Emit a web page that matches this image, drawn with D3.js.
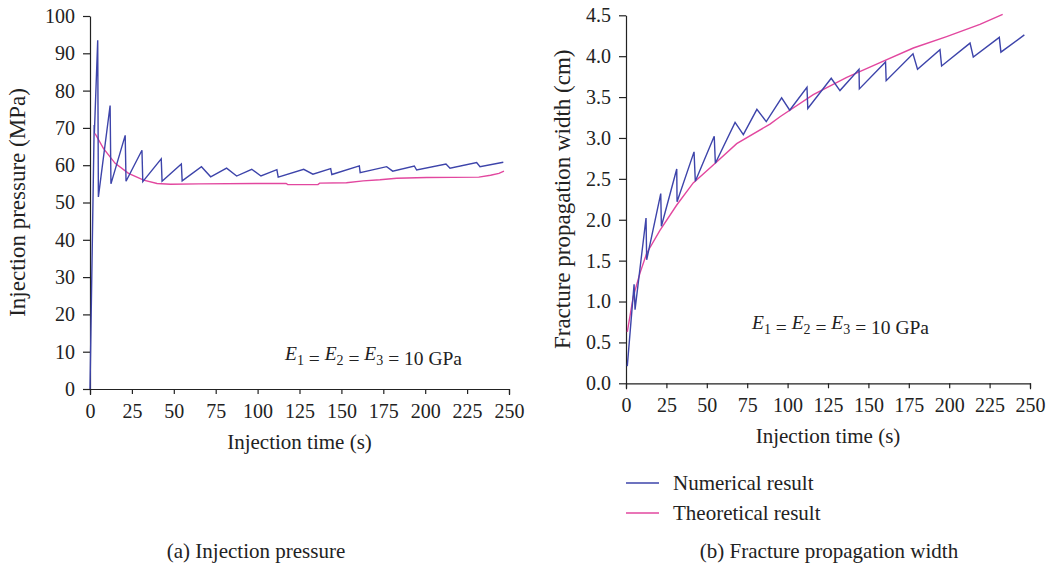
<!DOCTYPE html>
<html>
<head>
<meta charset="utf-8">
<script src="https://cdn.jsdelivr.net/npm/d3@7"></script>
<style>
  body { margin: 0; background: #fff; }
  svg { display: block; font-family: "Liberation Serif", "Times New Roman", serif; }
  .axis path, .axis line { stroke: #222; stroke-width: 1.2; }
</style>
</head>
<body>
<div id="chart"></div>
<script>
// ---- data ----
const timeTicks = [0, 25, 50, 75, 100, 125, 150, 175, 200, 225, 250];
const pressureTicks = [0, 10, 20, 30, 40, 50, 60, 70, 80, 90, 100];
const widthTicks = [0, 0.5, 1, 1.5, 2, 2.5, 3, 3.5, 4, 4.5];

// (a) injection pressure, MPa
const pressureNumT = [0, 2.5, 2.6, 4.6, 5, 12, 12.5, 21, 21.5, 31, 31.5, 42.5, 43, 54.5, 55, 66.5, 72, 81.5, 87.5, 96.5, 102, 111.5, 112.3, 127.5, 133, 143.6, 144.3, 160.7, 161.2, 177, 180.6, 193.5, 194.9, 212.4, 214.8, 230.7, 232.7, 246.6];
const pressureNumV = [0, 70.8, 68.5, 93.5, 51.5, 76, 55, 68, 55.7, 64, 55.6, 61.7, 55.7, 60.3, 55.8, 59.6, 56.9, 59.2, 57.1, 58.9, 57.1, 58.8, 56.8, 58.9, 57.6, 59.1, 57.5, 59.8, 58, 59.6, 58.4, 59.8, 58.7, 60.3, 59.2, 60.7, 59.6, 60.8];
const pressureTheoT = [3, 8, 15, 23, 32, 40, 48, 65, 100, 117, 118, 136, 137, 153, 163, 173, 183, 201, 232, 239, 244, 247];
const pressureTheoV = [68.5, 64.5, 60.5, 57.8, 56, 55.1, 54.9, 55, 55.1, 55.1, 54.8, 54.8, 55.2, 55.3, 55.8, 56.1, 56.5, 56.7, 56.8, 57.3, 57.8, 58.4];

// (b) fracture propagation width, cm
const widthNumT = [0.8, 5, 5.6, 12.4, 12.8, 21.5, 21.9, 31.4, 31.6, 42.1, 42.9, 54.6, 55.3, 67.5, 72.6, 81, 86.8, 96.3, 101.3, 112, 112.5, 127, 132.4, 144.2, 144.4, 160.6, 161, 177.6, 180.4, 194.3, 195.3, 212.9, 214.9, 231, 232, 246.5];
const widthNumV = [0.21, 1.21, 0.9, 2.02, 1.51, 2.32, 1.92, 2.62, 2.22, 2.83, 2.47, 3.02, 2.69, 3.19, 3.04, 3.35, 3.2, 3.49, 3.34, 3.62, 3.36, 3.73, 3.58, 3.84, 3.6, 3.93, 3.7, 4.03, 3.84, 4.08, 3.88, 4.16, 3.99, 4.23, 4.05, 4.26];
const widthTheoT = [0.8, 4.5, 8.7, 12.8, 21, 31.4, 41.6, 54, 68.5, 89.1, 95.3, 115.9, 136.6, 157.2, 177.8, 198.4, 219, 233.1];
const widthTheoV = [0.63, 1.06, 1.35, 1.59, 1.87, 2.18, 2.45, 2.67, 2.93, 3.17, 3.26, 3.53, 3.74, 3.92, 4.1, 4.24, 4.39, 4.51];

const seriesNames = ["Numerical result", "Theoretical result"];
const seriesColors = ["#3d44aa", "#e2479f"];
const serif = "'Liberation Serif', 'Times New Roman', serif";

const W = 1049, H = 566;
const svg = d3.select("#chart").append("svg")
    .attr("width", W)
    .attr("height", H);

function zip(ts, vs) {
    return ts.map((t, i) => ({t: t, v: vs[i]}));
}

function styleAxis(g) {
    g.attr("font-family", serif).attr("font-size", 20);
    g.selectAll("text")
        .style("font-family", serif)
        .style("font-size", "20px")
        .attr("fill", "#222");
}

function drawPanel(opt) {
    const x = d3.scaleLinear().domain([0, 250]).range([opt.left, opt.right]);
    const y = d3.scaleLinear().domain(opt.yDomain).range([opt.bottom, opt.top]);

    svg.append("g")
        .attr("class", "axis")
        .attr("transform", "translate(0," + opt.bottom + ")")
        .call(d3.axisBottom(x).tickValues(timeTicks).tickSize(5).tickSizeOuter(6).tickPadding(10))
        .call(styleAxis);

    svg.append("g")
        .attr("class", "axis")
        .attr("transform", "translate(" + opt.left + ",0)")
        .call(d3.axisLeft(y).tickValues(opt.yTicks).tickFormat(opt.yFormat).tickSize(7).tickSizeOuter(0).tickPadding(8))
        .call(styleAxis);

    const line = d3.line()
        .x(d => x(d.t))
        .y(d => y(d.v));

    // theoretical first so the numerical line sits on top where they cross
    svg.append("path")
        .datum(opt.theo)
        .attr("fill", "none")
        .attr("stroke", seriesColors[1])
        .attr("stroke-width", 1.4)
        .attr("d", line);

    svg.append("path")
        .datum(opt.num)
        .attr("fill", "none")
        .attr("stroke", seriesColors[0])
        .attr("stroke-width", 1.4)
        .attr("d", line);

    // axis titles
    svg.append("text")
        .attr("x", (opt.left + opt.right) / 2)
        .attr("y", opt.bottom + 60)
        .attr("text-anchor", "middle")
        .style("font-size", "21px")
        .style("fill", "#222")
        .text("Injection time (s)");

    svg.append("text")
        .attr("transform", "translate(" + opt.yTitleX + "," + ((opt.top + opt.bottom) / 2) + ") rotate(-90)")
        .attr("text-anchor", "middle")
        .style("font-size", "23px")
        .style("fill", "#222")
        .text(opt.yTitle);

    // annotation E1 = E2 = E3 = 10 GPa
    const ann = svg.append("text")
        .attr("x", opt.annX)
        .attr("y", opt.annY)
        .style("font-size", "19.5px")
        .style("fill", "#222");
    [1, 2, 3].forEach(function(k, i) {
        ann.append("tspan").style("font-style", "italic").attr("dy", i === 0 ? 0 : -5).text("E");
        ann.append("tspan").attr("dy", 5).style("font-size", "14px").text(k);
        ann.append("tspan").text(i < 2 ? " = " : " = 10 GPa");
    });

    // caption
    svg.append("text")
        .attr("x", opt.capX)
        .attr("y", 558)
        .attr("text-anchor", "middle")
        .style("font-size", "21px")
        .style("fill", "#222")
        .text(opt.caption);
}

drawPanel({
    left: 90, right: 509, top: 16, bottom: 389,
    yDomain: [0, 100], yTicks: pressureTicks, yFormat: d3.format("d"),
    num: zip(pressureNumT, pressureNumV),
    theo: zip(pressureTheoT, pressureTheoV),
    yTitle: "Injection pressure (MPa)", yTitleX: 25,
    annX: 285, annY: 360,
    capX: 256, caption: "(a) Injection pressure"
});

drawPanel({
    left: 626, right: 1030, top: 15.3, bottom: 383.3,
    yDomain: [0, 4.5], yTicks: widthTicks, yFormat: d3.format(".1f"),
    num: zip(widthNumT, widthNumV),
    theo: zip(widthTheoT, widthTheoV),
    yTitle: "Fracture propagation width (cm)", yTitleX: 570,
    annX: 752, annY: 329,
    capX: 829, caption: "(b) Fracture propagation width"
});

// legend
const legend = svg.append("g").attr("transform", "translate(626,483)");
seriesNames.forEach(function(name, i) {
    const row = legend.append("g").attr("transform", "translate(0," + (i * 30) + ")");
    row.append("line")
        .attr("x1", 0).attr("x2", 33)
        .attr("stroke", seriesColors[i])
        .attr("stroke-width", 1.4);
    row.append("text")
        .attr("x", 47)
        .attr("y", 7)
        .style("font-size", "21px")
        .style("fill", "#222")
        .text(name);
});
</script>
</body>
</html>
